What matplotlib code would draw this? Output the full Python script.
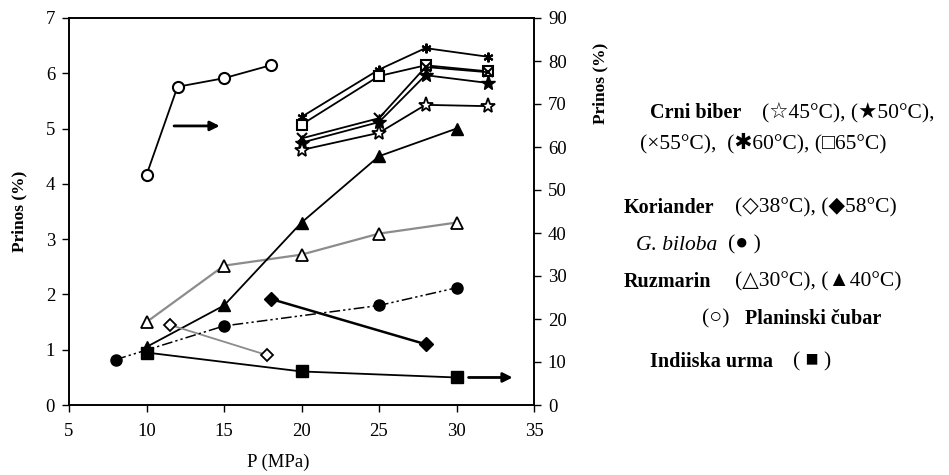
import matplotlib
matplotlib.use("Agg")
import matplotlib.pyplot as plt

plt.rcParams['font.family'] = ['Liberation Serif', 'DejaVu Sans']

# Crni biber (right axis, %)
cb_p = [20, 25, 28, 32]
cb_45 = [59.3, 63.3, 69.8, 69.5]
cb_50 = [61.0, 65.8, 76.7, 74.9]
cb_55 = [62.0, 66.7, 78.6, 77.4]
cb_60 = [67.0, 78.0, 83.0, 81.0]
cb_65 = [65.2, 76.5, 79.0, 77.6]

# Planinski cubar (right axis)
pc_p = [10, 12, 15, 18]
pc_y = [53.5, 74.0, 76.0, 79.0]

# Indiiska urma (right axis)
iu_p = [10, 20, 30]
iu_y = [12.2, 7.8, 6.4]

# Ruzmarin (left axis)
rz_p = [10, 15, 20, 25, 30]
rz_30 = [1.5, 2.52, 2.72, 3.1, 3.3]
rz_40 = [1.05, 1.8, 3.3, 4.5, 5.0]

# Koriander (left axis)
ko38_p = [11.5, 17.8]
ko38_y = [1.45, 0.9]
ko58_p = [18, 28]
ko58_y = [1.92, 1.1]

# G. biloba (left axis)
gb_p = [8, 15, 25, 30]
gb_y = [0.82, 1.43, 1.8, 2.12]

fig = plt.figure(figsize=(9.49, 4.75), dpi=100)
ax = fig.add_axes([69 / 949, 70 / 475, 465 / 949, 387 / 475])
ax2 = ax.twinx()

ms = 8
k = dict(color='black', lw=1.3, mec='black')
# left axis series
ax.plot(rz_p, rz_30, color='#8c8c8c', lw=1.6, marker='^', ms=ms, mfc='white', mec='black', mew=1.3)
ax.plot(rz_p, rz_40, marker='^', ms=ms + 1, mfc='black', **k)
ax.plot(ko38_p, ko38_y, color='#8c8c8c', lw=1.3, marker='D', ms=6.5, mfc='white', mec='black', mew=1.3)
ax.plot(ko58_p, ko58_y, color='black', lw=1.8, marker='D', ms=7, mfc='black', mec='black')
ax.plot(gb_p, gb_y, color='black', lw=1.1, ls=(0, (7, 2, 1.5, 2, 1.5, 2)),
        marker='o', ms=ms, mfc='black', mec='black')

# right axis series
ax2.plot(pc_p, pc_y, marker='o', ms=ms, mfc='white', mew=1.5, **k)
ax2.plot(iu_p, iu_y, marker='s', ms=ms, mfc='black', **k)
ax2.plot(cb_p, cb_60, marker=(6, 2, 0), ms=7, mew=1.5, **k)
ax2.plot(cb_p, cb_65, marker='s', ms=7, mfc='white', mew=1.5, **k)
ax2.plot(cb_p, cb_55, marker='x', ms=7, mew=1.5, **k)
ax2.plot(cb_p, cb_50, marker='*', ms=11, mfc='black', **k)
ax2.plot(cb_p, cb_45, marker='*', ms=11, mfc='white', mew=1.3, **k)

# arrows
ax2.annotate('', xy=(14.9, 64.9), xytext=(11.6, 64.9),
             arrowprops=dict(arrowstyle='-|>', color='black', lw=2, mutation_scale=14))
ax2.annotate('', xy=(33.8, 6.4), xytext=(30.6, 6.4),
             arrowprops=dict(arrowstyle='-|>', color='black', lw=2, mutation_scale=14))

ax.set_xlim(5, 35)
ax.set_ylim(0, 7)
ax2.set_ylim(0, 90)
ax.set_xticks(range(5, 36, 5))
ax.set_yticks(range(0, 8))
ax2.set_yticks(range(0, 91, 10))
for a in (ax, ax2):
    a.tick_params(labelsize=13.5, direction='out', length=5, width=1, pad=5)
    for s in a.spines.values():
        s.set_linewidth(1.2)
ax.tick_params(axis='x', pad=8)
ax.set_xlabel('P (MPa)', fontsize=13.5)
ax.xaxis.set_label_coords(0.45, -0.125)
ax.set_ylabel('Prinos (%)', fontsize=12.5, fontweight='bold')
ax.yaxis.set_label_coords(-0.09, 0.5)
ax2.set_ylabel('Prinos (%)', fontsize=12.5, fontweight='bold')
ax2.yaxis.set_label_coords(1.125, 0.83)

# legend-like text block
fb = 14.5
fn = 15.5
def txt(x, y, s, size, **kw):
    fig.text(x / 949, 1 - y / 475, s, fontsize=size, va='center', ha='left', **kw)

txt(650, 113, 'Crni biber', fb, fontweight='bold')
txt(762, 113, '(\u260645°C), (\u260550°C),', fn)
txt(640, 143, '(\u00d755°C),  (\u273160°C), (\u25a165°C)', fn)
txt(624, 208, 'Koriander', fb, fontweight='bold')
txt(735, 208, '(\u25c738°C), (\u25c658°C)', fn)
txt(636, 245, 'G. biloba', fn, style='italic')
txt(728, 245, '(\u25cf )', fn)
txt(624, 282, 'Ruzmarin', fb, fontweight='bold')
txt(735, 282, '(\u25b330°C), (\u25b240°C)', fn)
txt(702, 319, '(\u25cb)', fn)
txt(745, 319, 'Planinski čubar', fb, fontweight='bold')
txt(650, 362, 'Indiiska urma', fb, fontweight='bold')
txt(793, 362, '( \u25a0 )', fn)

fig.savefig('out.png', dpi=100)
